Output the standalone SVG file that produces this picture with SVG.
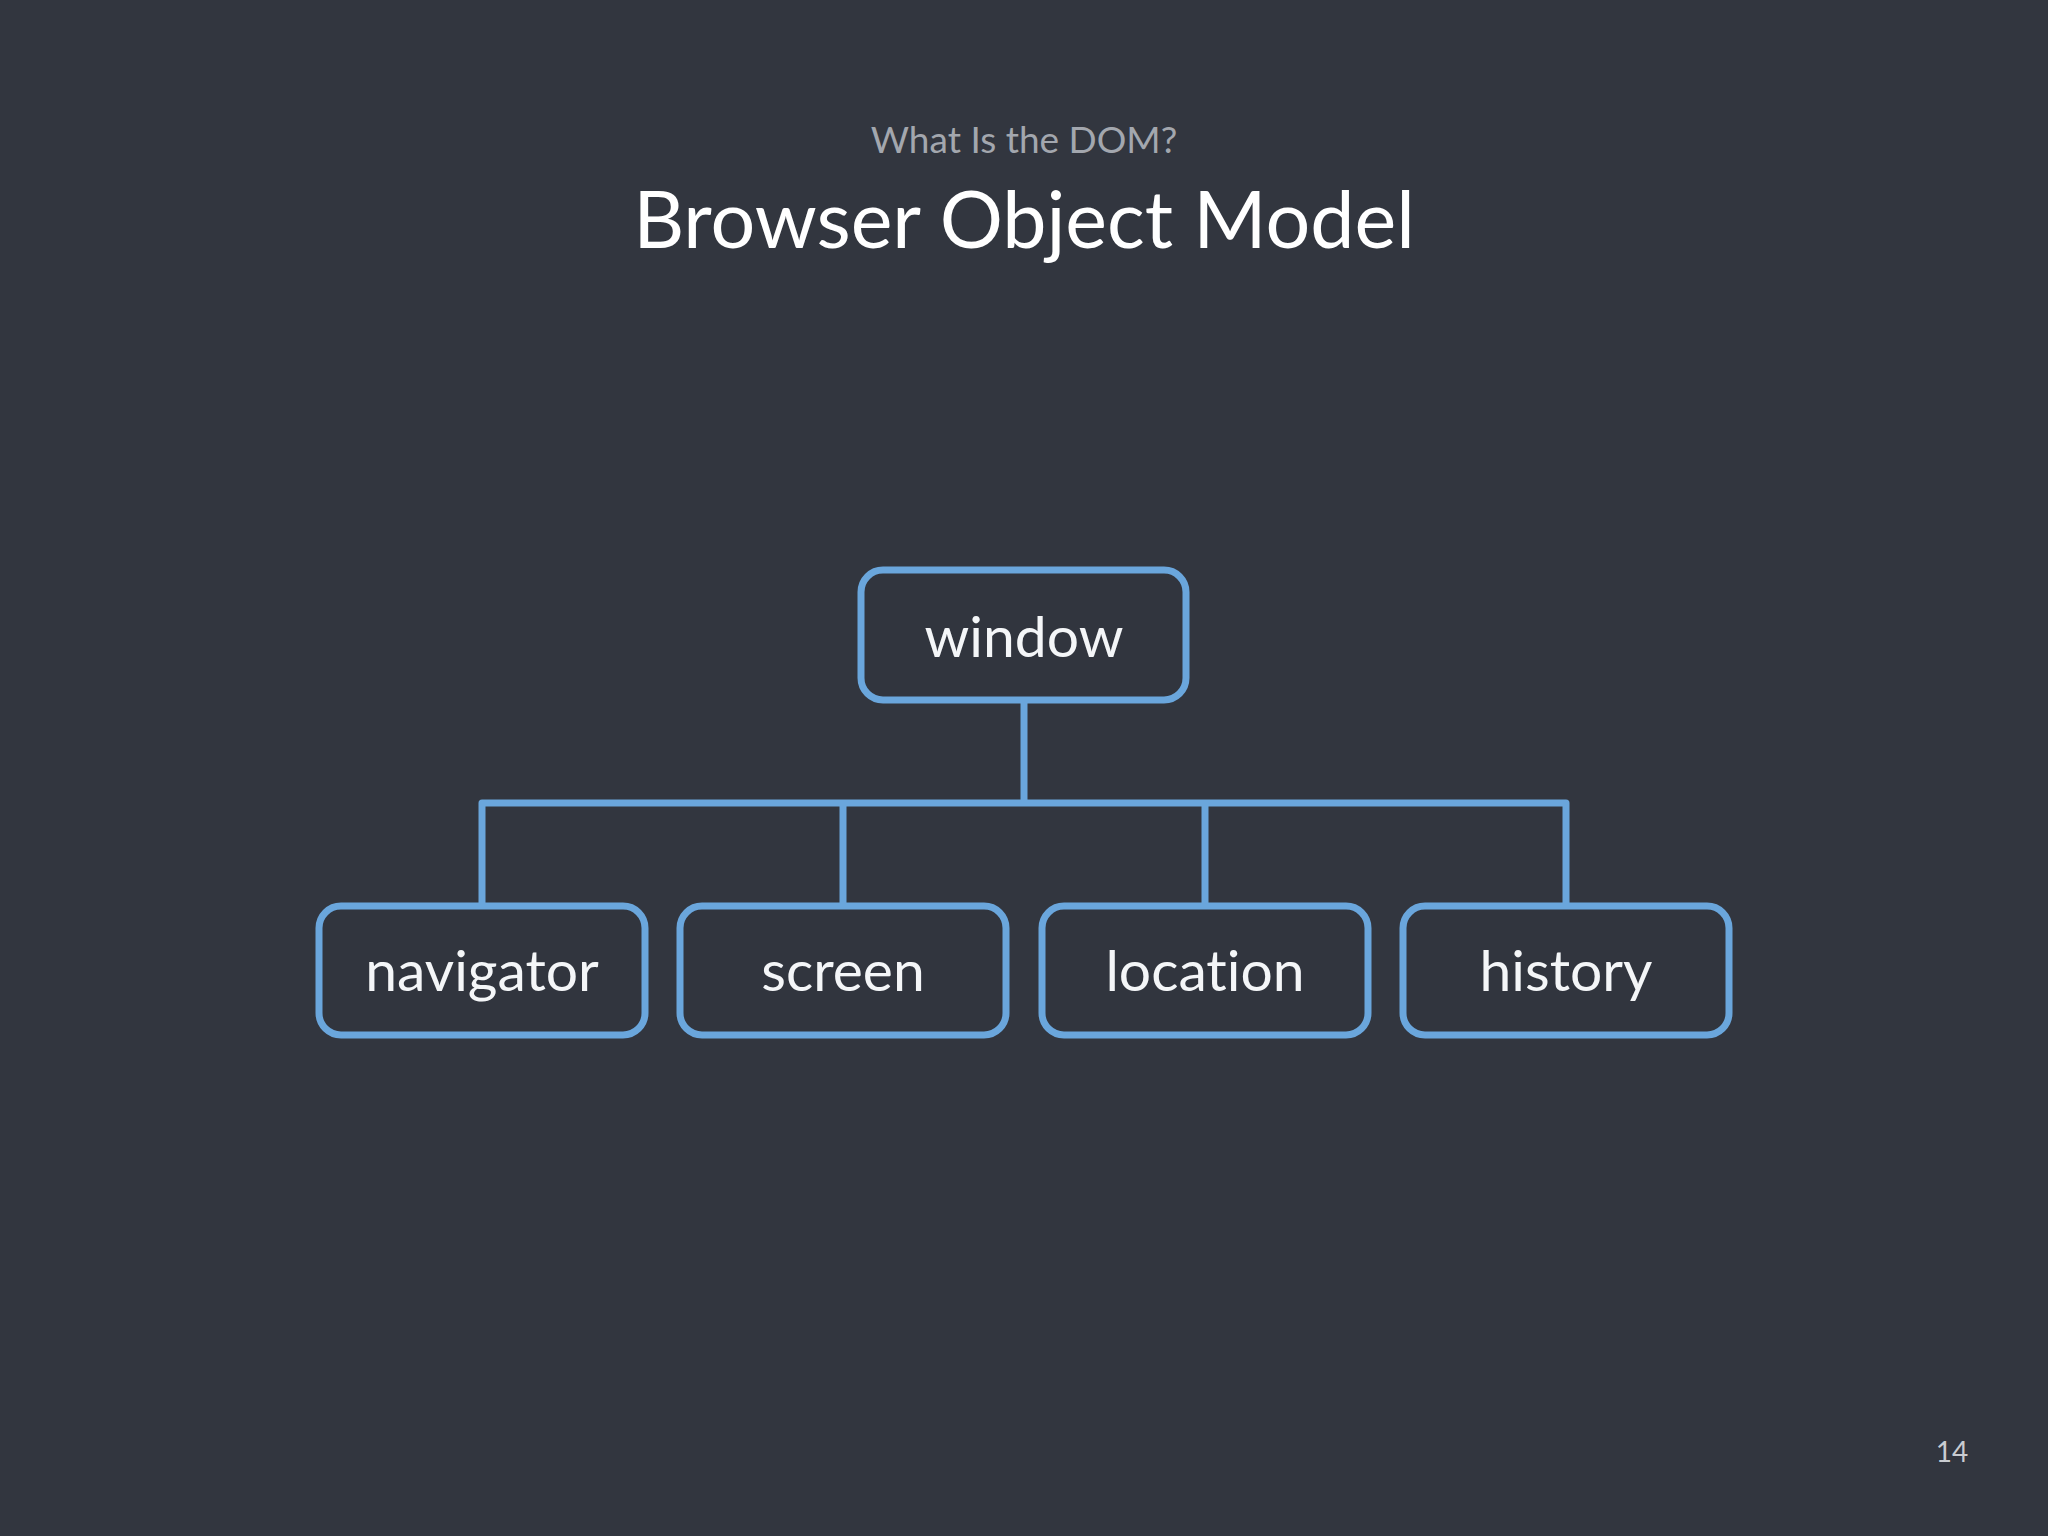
<svg xmlns="http://www.w3.org/2000/svg" width="2048" height="1536" viewBox="0 0 2048 1536">
<style>
.bg{fill:#32363f}
.box{fill:#31353e;stroke:#6aa6dc;stroke-width:7}
text{font-variant-ligatures:none;font-feature-settings:"liga" 0}
.lbl{font-family:Lato,"Open Sans","DejaVu Sans",sans-serif;font-size:57px;fill:#f4f6f8;text-anchor:middle}
.conn{fill:none;stroke:#6aa6dc;stroke-width:7;stroke-linejoin:round}
.title{font-family:Lato,"Open Sans","DejaVu Sans",sans-serif;font-size:79px;fill:#ffffff;text-anchor:middle}
.sub{font-family:Lato,"Open Sans","DejaVu Sans",sans-serif;font-size:37px;fill:#a3a7ae;text-anchor:middle}
.pg{font-family:Lato,"Open Sans","DejaVu Sans",sans-serif;font-size:28px;fill:#c9ccd1;text-anchor:middle}
</style>
<rect class="bg" x="0" y="0" width="2048" height="1536"/>
<text class="sub" x="1024" y="153">What Is the DOM?</text>
<text class="title" x="1024" y="248">Browser Object Model</text>
<g id="connectors">
<path class="conn" d="M1024 700 V803"/>
<path class="conn" d="M482 906 V803 H1566 V906"/>
<path class="conn" d="M843 803 V906"/>
<path class="conn" d="M1205 803 V906"/>
</g>
<g id="window">
<rect class="box" x="861" y="570" width="325" height="130" rx="22"/>
<text class="lbl" x="1024" y="657">window</text>
</g>
<g id="navigator">
<rect class="box" x="319" y="906" width="326" height="129" rx="22"/>
<text class="lbl" x="482" y="991">navigator</text>
</g>
<g id="screen">
<rect class="box" x="680" y="906" width="326" height="129" rx="22"/>
<text class="lbl" x="843" y="991">screen</text>
</g>
<g id="location">
<rect class="box" x="1042" y="906" width="326" height="129" rx="22"/>
<text class="lbl" x="1205" y="991">location</text>
</g>
<g id="history">
<rect class="box" x="1403" y="906" width="326" height="129" rx="22"/>
<text class="lbl" x="1566" y="991">history</text>
</g>
<text class="pg" x="1952" y="1462">14</text>
</svg>
